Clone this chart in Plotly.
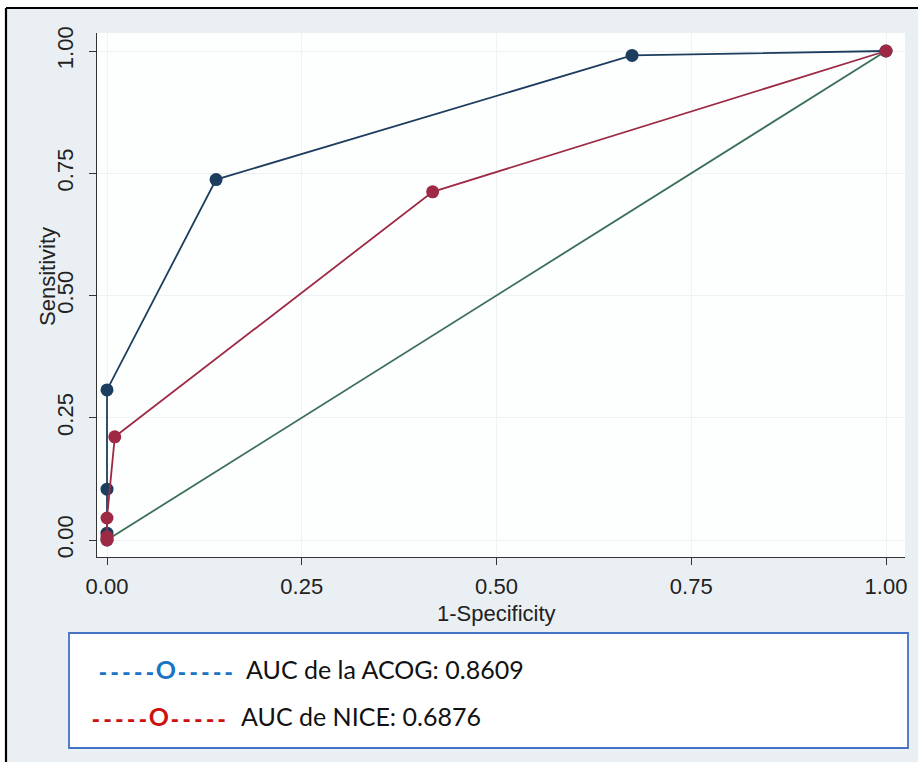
import plotly.graph_objects as go

# Data
acog_x = [0.0, 0.0, 0.0, 0.0, 0.14, 0.674, 1.0]
acog_y = [0.0, 0.014, 0.104, 0.307, 0.737, 0.991, 1.0]
nice_x = [0.0, 0.0, 0.0, 0.010, 0.418, 1.0]
nice_y = [0.0, 0.006, 0.045, 0.211, 0.712, 1.0]
ref_x = [0.0, 1.0]
ref_y = [0.0, 1.0]
tick_vals = [0.0, 0.25, 0.5, 0.75, 1.0]
tick_text = ["0.00", "0.25", "0.50", "0.75", "1.00"]
legend_labels = ["AUC de la ACOG: 0.8609", "AUC de NICE: 0.6876"]

W, H = 918, 762
L, R, T, B = 97, 13, 33, 205
PW, PH = W - L - R, H - T - B


def px(xp):
    return (xp - L) / PW


def py(yp):
    return (H - B - yp) / PH


NAVY = "#1d3d5f"
RED = "#9e2944"
GREEN = "#3b6f57"

fig = go.Figure()
fig.add_trace(go.Scatter(x=ref_x, y=ref_y, mode="lines",
                         line=dict(color=GREEN, width=1.8), showlegend=False))
fig.add_trace(go.Scatter(x=acog_x, y=acog_y, mode="lines+markers",
                         line=dict(color=NAVY, width=1.8),
                         marker=dict(color=NAVY, size=13), showlegend=False))
fig.add_trace(go.Scatter(x=nice_x, y=nice_y, mode="lines+markers",
                         line=dict(color=RED, width=1.8),
                         marker=dict(color=RED, size=13), showlegend=False))

axis_font = dict(family="Liberation Sans, Arial, sans-serif", size=22, color="#222222")

fig.update_xaxes(range=[(L - 107) / 779, (W - R - 107) / 779],
                 tickvals=tick_vals, ticktext=tick_text, tickfont=axis_font,
                 showline=True, linecolor="#333333", linewidth=1.3,
                 ticks="outside", ticklen=7, tickcolor="#333333",
                 ticklabelstandoff=2,
                 showgrid=True, gridcolor="#eef2f4", zeroline=False)
fig.update_yaxes(range=[(540 - (H - B)) / 489, (540 - T) / 489],
                 tickvals=tick_vals, ticktext=tick_text, tickfont=axis_font,
                 tickangle=-90,
                 showline=True, linecolor="#333333", linewidth=1.3,
                 ticks="outside", ticklen=7, tickcolor="#333333",
                 ticklabelstandoff=7,
                 showgrid=True, gridcolor="#eef2f4", zeroline=False)

LEG_FONT = "Lato, sans-serif"
SYM_FONT = "DejaVu Sans Mono, monospace"


def symbol():
    return '<b>-----<span style="font-family:Lato;font-size:25px">O</span>-----</b>'


annotations = [
    dict(text="1-Specificity", x=0.5, y=py(613), xref="x", yref="paper",
         showarrow=False, font=axis_font, xanchor="center", yanchor="middle"),
    dict(text="Sensitivity", x=px(47), y=py(277), xref="paper", yref="paper",
         showarrow=False, font=axis_font, textangle=-90,
         xanchor="center", yanchor="middle"),
    dict(text=symbol(), x=px(95), y=py(669), xref="paper", yref="paper",
         showarrow=False, xanchor="left", yanchor="middle",
         font=dict(family=SYM_FONT, size=19.5, color="#1a75c4")),
    dict(text=legend_labels[0], x=px(244), y=py(669), xref="paper", yref="paper",
         showarrow=False, xanchor="left", yanchor="middle",
         font=dict(family=LEG_FONT, size=25, color="#111111")),
    dict(text=symbol(), x=px(88), y=py(716), xref="paper", yref="paper",
         showarrow=False, xanchor="left", yanchor="middle",
         font=dict(family=SYM_FONT, size=19.5, color="#cc1111")),
    dict(text=legend_labels[1], x=px(239), y=py(716), xref="paper", yref="paper",
         showarrow=False, xanchor="left", yanchor="middle",
         font=dict(family=LEG_FONT, size=25, color="#111111")),
]

shapes = [
    # white strips outside the outer frame
    dict(type="rect", xref="paper", yref="paper", x0=px(0), x1=px(6), y0=py(H), y1=py(0),
         fillcolor="white", line=dict(width=0), layer="above"),
    dict(type="rect", xref="paper", yref="paper", x0=px(0), x1=px(W), y0=py(8), y1=py(0),
         fillcolor="white", line=dict(width=0), layer="above"),
    # outer frame lines (left and top)
    dict(type="line", xref="paper", yref="paper", x0=px(6), x1=px(6), y0=py(H), y1=py(8),
         line=dict(color="#000000", width=2.2)),
    dict(type="line", xref="paper", yref="paper", x0=px(6), x1=px(W), y0=py(8), y1=py(8),
         line=dict(color="#000000", width=2.2)),
    # legend box
    dict(type="rect", xref="paper", yref="paper", x0=px(69), x1=px(908), y0=py(748), y1=py(633),
         fillcolor="white", line=dict(color="#4472c4", width=1.8), layer="below"),
]

fig.update_layout(
    width=W, height=H,
    margin=dict(l=L, r=R, t=T, b=B, pad=0),
    paper_bgcolor="#e9eff2",
    plot_bgcolor="#fdfefe",
    annotations=annotations,
    shapes=shapes,
    showlegend=False,
)

fig.write_html("out.html")
